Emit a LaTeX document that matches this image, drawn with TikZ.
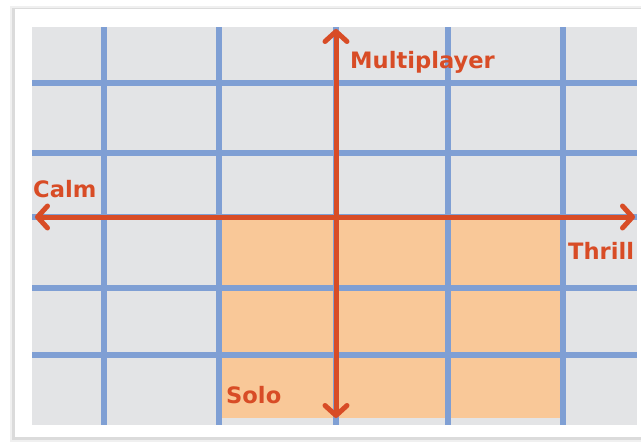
\documentclass[tikz,border=0pt]{standalone}
\usepackage{fontspec}
\setmainfont{DejaVu Sans}
\usetikzlibrary{arrows.meta}
\definecolor{cardgrey}{HTML}{E3E4E6}
\definecolor{gridblue}{HTML}{7F9FD4}
\definecolor{zoneorange}{HTML}{F9C898}
\definecolor{axisred}{HTML}{D84C26}
\tikzset{
  gridline/.style={draw=gridblue, line width=5.5pt},
  axisline/.style={draw=axisred, line width=5pt, line cap=round,
    {Straight Barb[length=10pt,width=22pt,line width=5pt,round]}-{Straight Barb[length=10pt,width=22pt,line width=5pt,round]}},
  axislabel/.style={text=axisred, font=\bfseries\fontsize{22.6}{26}\selectfont, anchor=base west, inner sep=0pt}
}
\begin{document}
\begin{tikzpicture}[x=1pt,y=-1pt]
\useasboundingbox (0,0) rectangle (641,442);
% card shadow and card
\fill[black!6] (10,6) rectangle (645,442);
\fill[black!14] (12,7.5) rectangle (645,440);
\fill[white] (15,9) rectangle (645,437);
% grey field
\fill[cardgrey] (32,27) rectangle (637,425);
% orange zone
\fill[zoneorange] (219,217) rectangle (563,418);
% grid
\foreach \x in {104,219,336,448,563} \draw[gridline] (\x,27) -- (\x,425);
\foreach \y in {83,153,217,288,355} \draw[gridline] (32,\y) -- (637,\y);
% axes
\coordinate (top) at (336,29);
\coordinate (bottom) at (336,418);
\coordinate (left) at (35,217);
\coordinate (right) at (635,217);
\draw[axisline] (bottom) -- (top);
\draw[axisline] (left) -- (right);
% labels
\node[axislabel] (multi) at (350,68) {Multiplayer};
\node[axislabel] (calm) at (33,197) {Calm};
\node[axislabel] (thrill) at (568,259) {Thrill};
\node[axislabel] (solo) at (226,403) {Solo};
\end{tikzpicture}
\end{document}
